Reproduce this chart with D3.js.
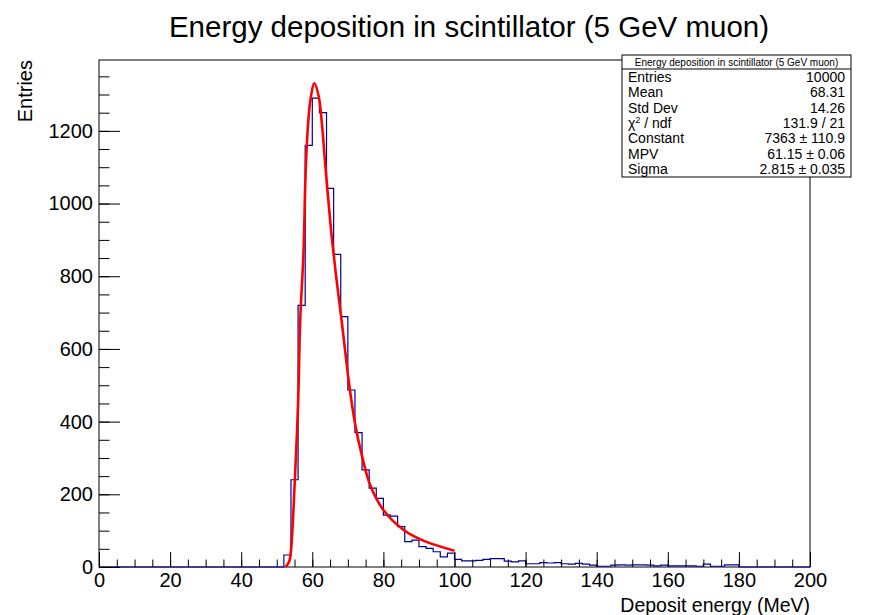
<!DOCTYPE html>
<html>
<head>
<meta charset="utf-8">
<script src="https://cdn.jsdelivr.net/npm/d3@7"></script>
<style>
  body { margin: 0; background: #fff; }
  svg { display: block; font-family: "Liberation Sans", Arial, Helvetica, sans-serif; }
</style>
</head>
<body>
<main></main>
<script>
const binLow = d3.range(0, 200, 2);
const entries = [
  0, 0, 0, 0, 0, 0, 0, 0, 0, 0,          // 0-20
  0, 0, 0, 0, 0, 0, 0, 0, 0, 0,          // 20-40
  0, 0, 0, 0, 0, 0, 33, 240, 720, 1160,  // 40-60
  1290, 1250, 1042, 860, 689, 487, 370, 267, 217, 189, // 60-80
  143, 140, 111, 70, 74, 56, 51, 42, 28, 38,           // 80-100
  21, 17, 17, 18, 21, 23, 23, 16, 14, 17,              // 100-120
  9, 9, 12, 11, 12, 9, 8, 10, 8, 5,                    // 120-140
  2, 2, 5, 6, 5, 6, 6, 5, 3, 5,                        // 140-160
  3, 3, 3, 3, 2, 8, 2, 2, 6, 6,                        // 160-180
  0, 0, 0, 0, 0, 0, 0, 0, 0, 0                         // 180-200
];

const fitX = [52.5, 53.5, 54, 55, 56, 56.6, 57.5, 58.3, 59.4, 60.6, 61.8, 62.7, 63.7, 64.6, 65.5, 66.7, 68.1, 69.3, 70.4, 72.1, 74, 76.3, 80, 85.7, 91.4, 100];
const fitY = [0, 15, 45, 220, 450, 680, 860, 1130, 1280, 1331, 1295, 1220, 1100, 1000, 905, 800, 690, 590, 500, 390, 305, 225, 157, 102, 72, 45];

const xMajor = d3.range(0, 201, 20);
const xMinor = d3.range(0, 201, 5);
const yMajor = d3.range(0, 1201, 200);
const yMinor = d3.range(0, 1395, 50);

const statLabels = ["Entries", "Mean", "Std Dev", "chi2", "Constant", "MPV", "Sigma"];
const statValues = ["10000", "68.31", "14.26", "131.9 / 21", "7363 \u00b1 110.9", "61.15 \u00b1 0.06", "2.815 \u00b1 0.035"];

const titulo = "Energy deposition in scintillator (5 GeV muon)";

// svg
const w = 874, h = 615;
const fr = { left: 99, right: 810, top: 60, bottom: 567 };

const svg = d3.select('main')
  .append('svg')
  .attr('width', w)
  .attr('height', h);

const x = d3.scaleLinear().domain([0, 200]).range([fr.left, fr.right]);
const y = d3.scaleLinear().domain([0, 1395]).range([fr.bottom, fr.top]);

// titulo
svg.append('text')
  .attr('x', 469)
  .attr('y', 37)
  .attr('text-anchor', 'middle')
  .style('font-size', '29.5px')
  .text(titulo);

// marco
svg.append('rect')
  .attr('x', fr.left).attr('y', fr.top)
  .attr('width', fr.right - fr.left).attr('height', fr.bottom - fr.top)
  .attr('fill', 'none').attr('stroke', '#000').attr('stroke-width', 1);

// histograma
const datos = binLow.map((b, i) => [b, entries[i]]);
datos.push([200, entries[entries.length - 1]]);

svg.append('path')
  .datum(datos)
  .attr('fill', 'none')
  .attr('stroke', '#000099')
  .attr('stroke-width', 1.2)
  .attr('d', d3.line().x(d => x(d[0])).y(d => y(d[1])).curve(d3.curveStepAfter));

// ajuste
svg.append('path')
  .datum(fitX.map((v, i) => [v, fitY[i]]))
  .attr('fill', 'none')
  .attr('stroke', '#ff0000')
  .attr('stroke-width', 2.6)
  .attr('d', d3.line().x(d => x(d[0])).y(d => y(d[1])).curve(d3.curveCatmullRom.alpha(0.5)));

// ejes
function estiloEje(g) {
  g.select('.domain').remove();
  g.selectAll('line').attr('stroke', '#000');
  g.selectAll('text').style('font-size', '20px').attr('fill', '#000');
}

svg.append('g')
  .attr('transform', `translate(0,${fr.bottom})`)
  .call(d3.axisBottom(x).tickValues(xMinor).tickSize(-7.5).tickFormat(''))
  .call(estiloEje);

svg.append('g')
  .attr('transform', `translate(0,${fr.bottom})`)
  .call(d3.axisBottom(x).tickValues(xMajor).tickSize(-15).tickPadding(6).tickFormat(d3.format('d')))
  .call(estiloEje);

svg.append('g')
  .attr('transform', `translate(${fr.left},0)`)
  .call(d3.axisLeft(y).tickValues(yMinor).tickSize(-10.5).tickFormat(''))
  .call(estiloEje);

svg.append('g')
  .attr('transform', `translate(${fr.left},0)`)
  .call(d3.axisLeft(y).tickValues(yMajor).tickSize(-21).tickPadding(6).tickFormat(d3.format('d')))
  .call(estiloEje);

// titulos de ejes
svg.append('text')
  .attr('transform', `translate(32,${fr.top}) rotate(-90)`)
  .attr('text-anchor', 'end')
  .style('font-size', '20px')
  .text('Entries');

svg.append('text')
  .attr('x', fr.right)
  .attr('y', 612)
  .attr('text-anchor', 'end')
  .style('font-size', '19.5px')
  .text('Deposit energy (MeV)');

// caja de estadisticas
const caja = { left: 622, right: 851, top: 55, bottom: 177, sep: 69 };
const st = svg.append('g');

st.append('rect')
  .attr('x', caja.left).attr('y', caja.top)
  .attr('width', caja.right - caja.left).attr('height', caja.bottom - caja.top)
  .attr('fill', '#fff').attr('stroke', '#000').attr('stroke-width', 1);

st.append('line')
  .attr('x1', caja.left).attr('x2', caja.right)
  .attr('y1', caja.sep).attr('y2', caja.sep)
  .attr('stroke', '#000');

st.append('text')
  .attr('x', (caja.left + caja.right) / 2)
  .attr('y', caja.top + 10.5)
  .attr('text-anchor', 'middle')
  .style('font-size', '10px')
  .text(titulo);

const fila = (caja.bottom - caja.sep) / statLabels.length;

statLabels.forEach((lab, i) => {
  const yy = caja.sep + fila * (i + 0.5) + 5;
  const t = st.append('text')
    .attr('x', caja.left + 6)
    .attr('y', yy)
    .style('font-size', '14px');
  if (lab === 'chi2') {
    t.append('tspan').text('\u03c7');
    t.append('tspan').attr('dy', -5).style('font-size', '9px').text('2');
    t.append('tspan').attr('dy', 5).text(' / ndf');
  } else {
    t.text(lab);
  }
  st.append('text')
    .attr('x', caja.right - 6)
    .attr('y', yy)
    .attr('text-anchor', 'end')
    .style('font-size', '14px')
    .text(statValues[i]);
});
</script>
</body>
</html>
